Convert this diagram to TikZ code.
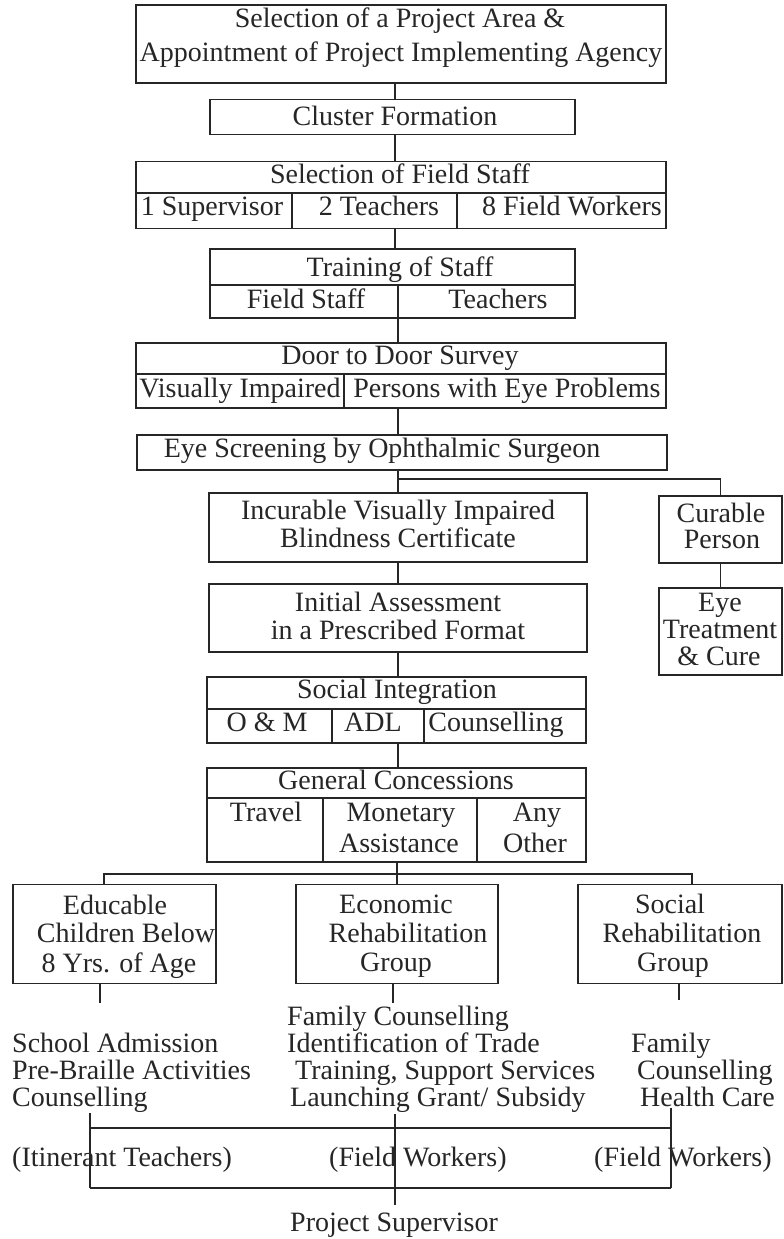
\documentclass[tikz,border=0pt]{standalone}
\usepackage{fontspec}
\setmainfont{Liberation Serif}
\definecolor{ink}{gray}{0.15}
\begin{document}
\begin{tikzpicture}[x=1pt,y=-1pt,
  ln/.style={line width=1.4pt, draw=ink},
  box/.style={ln, rectangle, inner sep=0pt},
  txt/.style={inner sep=0pt, text=ink, font=\fontsize{28}{30}\selectfont, text height=19pt, text depth=6pt},
  lt/.style={txt, anchor=west}]
\useasboundingbox (0,0) rectangle (784,1239);
\fill[white] (0,0) rectangle (784,1239);

% ---------- boxes ----------
\node[box, minimum width=530pt, minimum height=78pt] (b1) at (401,44) {};
\node[txt] (t1a) at (400,21) {Selection of a Project Area \&};
\node[txt] (t1b) at (401,55) {Appointment of Project Implementing Agency};

\node[box, minimum width=365pt, minimum height=35pt] (b2) at (392.5,117) {};
\node[txt] (t2) at (395,119) {Cluster Formation};

\node[box, minimum width=530pt, minimum height=67pt] (b3) at (401,195) {};
\draw[ln] (b3.west |- 0,193) -- (b3.east |- 0,193);
\draw[ln] (292,193) -- (b3.south -| 292,0);
\draw[ln] (457,193) -- (b3.south -| 457,0);
\node[txt] (t3) at (400,177) {Selection of Field Staff};
\node[txt] (t3a) at (212,209) {1 Supervisor};
\node[txt] (t3b) at (379,209) {2 Teachers};
\node[txt] (t3c) at (572,209) {8 Field Workers};

\node[box, minimum width=365pt, minimum height=69pt] (b4) at (392.5,283.5) {};
\draw[ln] (b4.west |- 0,285) -- (b4.east |- 0,285);
\draw[ln] (398,285) -- (b4.south -| 398,0);
\node[txt] (t4) at (400,270) {Training of Staff};
\node[txt] (t4a) at (306,302) {Field Staff};
\node[txt] (t4b) at (498,302) {Teachers};

\node[box, minimum width=530pt, minimum height=65pt] (b5) at (401,375.5) {};
\draw[ln] (b5.west |- 0,374) -- (b5.east |- 0,374);
\draw[ln] (344,374) -- (b5.south -| 344,0);
\node[txt] (t5) at (400,358) {Door to Door Survey};
\node[txt] (t5a) at (240,391) {Visually Impaired};
\node[txt] (t5b) at (507,391) {Persons with Eye Problems};

\node[box, minimum width=530pt, minimum height=35pt] (b6) at (402,452.5) {};
\node[txt] (t6) at (382,451) {Eye Screening by Ophthalmic Surgeon};

\node[box, minimum width=378pt, minimum height=69pt] (b7) at (398,527.5) {};
\node[txt] (t7a) at (398,513) {Incurable Visually Impaired};
\node[txt] (t7b) at (398,541) {Blindness Certificate};

\node[box, minimum width=123pt, minimum height=67pt] (b8) at (720.5,529.5) {};
\node[txt] (t8a) at (721,516) {Curable};
\node[txt] (t8b) at (722,542) {Person};

\node[box, minimum width=123pt, minimum height=87pt] (b9) at (720.5,631.5) {};
\node[txt] (t9a) at (720,605) {Eye};
\node[txt] (t9b) at (720,632) {Treatment};
\node[txt] (t9c) at (719,659) {\& Cure};

\node[box, minimum width=378pt, minimum height=68pt] (b10) at (398,618) {};
\node[txt] (t10a) at (398,605) {Initial Assessment};
\node[txt] (t10b) at (398,633) {in a Prescribed Format};

\node[box, minimum width=379pt, minimum height=66pt] (b11) at (396.5,710) {};
\draw[ln] (b11.west |- 0,709) -- (b11.east |- 0,709);
\draw[ln] (332,709) -- (b11.south -| 332,0);
\draw[ln] (424,709) -- (b11.south -| 424,0);
\node[txt] (t11) at (397,692) {Social Integration};
\node[txt] (t11a) at (267,725) {O \& M};
\node[txt] (t11b) at (373,725) {ADL};
\node[txt] (t11c) at (496,725) {Counselling};

\node[box, minimum width=379pt, minimum height=94pt] (b12) at (396.5,815) {};
\draw[ln] (b12.west |- 0,798) -- (b12.east |- 0,798);
\draw[ln] (323,798) -- (b12.south -| 323,0);
\draw[ln] (477,798) -- (b12.south -| 477,0);
\node[txt] (t12) at (396,783) {General Concessions};
\node[txt] (t12a) at (266,815) {Travel};
\node[txt] (t12b) at (401,815) {Monetary};
\node[txt] (t12c) at (399,846) {Assistance};
\node[txt] (t12d) at (537,815) {Any};
\node[txt] (t12e) at (535,846) {Other};

\node[box, minimum width=203pt, minimum height=99pt] (b13) at (114.5,934) {};
\node[txt] (t13a) at (115,908) {Educable};
\node[txt] (t13b) at (126,936) {Children Below};
\node[txt] (t13c) at (119,966) {8 Yrs. of Age};

\node[box, minimum width=202pt, minimum height=99pt] (b14) at (397,934) {};
\node[txt] (t14a) at (396,907) {Economic};
\node[txt] (t14b) at (408,936) {Rehabilitation};
\node[txt] (t14c) at (396,965) {Group};

\node[box, minimum width=204pt, minimum height=99pt] (b15) at (680,934) {};
\node[txt] (t15a) at (670,907) {Social};
\node[txt] (t15b) at (682,936) {Rehabilitation};
\node[txt] (t15c) at (673,965) {Group};

% ---------- lists ----------
\node[lt] (l1) at (12,1046) {School Admission};
\node[lt] (l2) at (12,1073) {Pre-Braille Activities};
\node[lt] (l3) at (12,1100) {Counselling};
\node[lt] (m0) at (287,1019) {Family Counselling};
\node[lt] (m1) at (287,1046) {Identification of Trade};
\node[lt] (m2) at (295,1073) {Training, Support Services};
\node[lt] (m3) at (290,1100) {Launching Grant/ Subsidy};
\node[lt] (r1) at (631,1046) {Family};
\node[lt] (r2) at (637,1073) {Counselling};
\node[lt] (r3) at (640,1100) {Health Care};

% ---------- connectors ----------
\coordinate (sp) at (395,0);
\coordinate (sq) at (398,0);
\draw[ln] (b1.south -| sp) -- (b2.north -| sp);
\draw[ln] (b2.south -| sp) -- (b3.north -| sp);
\draw[ln] (b3.south -| sp) -- (b4.north -| sp);
\draw[ln] (b4.south -| sq) -- (b5.north -| sq);
\draw[ln] (b5.south -| sq) -- (b6.north -| sq);
\coordinate (br1) at (398,479);
\draw[ln] (b6.south -| sq) -- (b7.north -| sq);
\draw[ln] (br1) -- (br1 -| b8.north) -- (b8.north);
\draw[ln] (b7.south -| sq) -- (b10.north -| sq);
\draw[ln] (b8.south) -- (b9.north);
\draw[ln] (b10.south -| sq) -- (b11.north -| sq);
\draw[ln] (b11.south -| sq) -- (b12.north -| sq);
\coordinate (cl) at (104,874);
\coordinate (cr) at (692,874);
\draw[ln] (b12.south -| b14.north) -- (b14.north);
\draw[ln] (b13.north -| cl) -- (cl) -- (cr) -- (b15.north -| cr);

% short stubs below group boxes
\coordinate (s1) at (100,1003);
\coordinate (s2) at (393,1003);
\coordinate (s3) at (679,1000);
\draw[ln] (b13.south -| s1) -- (s1);
\draw[ln] (b14.south -| s2) -- (s2);
\draw[ln] (b15.south -| s3) -- (s3);

% bottom bracket
\coordinate (ka) at (90,1113);
\coordinate (kb) at (395,1114);
\coordinate (kc) at (671,1108);
\coordinate (ka2) at (90,1188);
\coordinate (kc2) at (671,1188);
\coordinate (kb2) at (395,1205);
\draw[ln] (ka) -- (ka2);
\draw[ln] (kc) -- (kc2);
\draw[ln] (kb) -- (kb2);
\draw[ln] (ka |- 0,1128) -- (kc |- 0,1128);
\draw[ln] (ka2) -- (kc2);

\node[lt] (w1) at (12,1160) {(Itinerant Teachers)};
\node[lt] (w2) at (329,1160) {(Field Workers)};
\node[lt] (w3) at (594,1160) {(Field Workers)};
\node[txt] (ps) at (394,1225) {Project Supervisor};
\end{tikzpicture}
\end{document}
